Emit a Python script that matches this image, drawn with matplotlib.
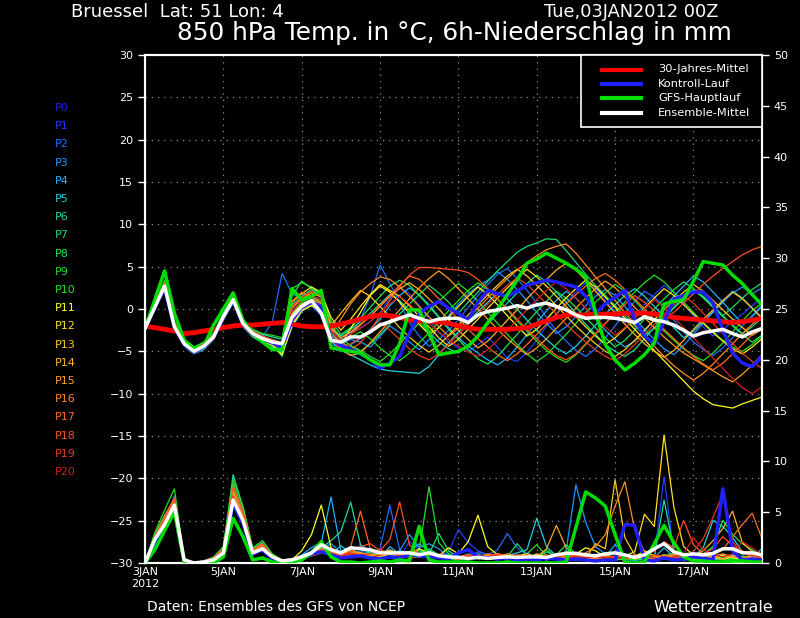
import numpy as np
import matplotlib
matplotlib.use('Agg')
import matplotlib.pyplot as plt
from matplotlib.lines import Line2D
from matplotlib.patches import Rectangle

OUTPUT = 'out.png'

STEP_DAYS = 0.25  # 6h
DAY_TICKS = [0, 2, 4, 6, 8, 10, 12, 14]
DAY_LABELS = ['3JAN\n2012', '5JAN', '7JAN', '9JAN', '11JAN', '13JAN', '15JAN', '17JAN']

# --- 850 hPa temperature, 6-hourly from 03JAN 00Z ---
t_clim = [-2.0, -2.2, -2.4, -2.6, -2.9, -2.8, -2.6, -2.4, -2.2, -2.0, -1.9, -1.9, -1.8, -1.7, -1.6, -1.8,
          -2.0, -2.1, -2.1, -2.0, -1.8, -1.5, -1.2, -0.9, -0.7, -0.8, -1.0, -1.3, -1.4, -1.5, -1.5, -1.7,
          -2.0, -2.2, -2.4, -2.4, -2.4, -2.4, -2.3, -2.2, -1.8, -1.4, -1.0, -0.7, -0.7, -0.7, -0.6, -0.6,
          -0.6, -0.5, -0.5, -0.5, -0.6, -0.8, -1.0, -1.1, -1.2, -1.3, -1.4, -1.5, -1.6, -1.5, -1.3, -1.1]
t_mean = [-2.3, 0.2, 2.7, -2.1, -4.1, -5.0, -4.4, -3.3, -0.9, 1.1, -1.7, -2.9, -3.5, -3.9, -4.1, -1.0,
          0.3, 1.0, -0.5, -3.7, -3.9, -3.3, -3.3, -2.7, -1.9, -1.5, -1.1, -0.7, -1.1, -1.5, -1.2, -1.1,
          -1.1, -1.6, -0.7, -0.3, -0.1, 0.1, 0.4, 0.1, 0.5, 0.7, 0.3, -0.1, -0.7, -1.1, -1.0, -1.0,
          -1.1, -1.3, -1.6, -0.9, -1.3, -1.5, -1.9, -2.5, -3.2, -2.8, -2.6, -2.4, -2.9, -3.3, -2.7, -2.3]
t_main = [-2.3, 1.1, 4.5, -0.5, -3.7, -4.6, -4.4, -1.9, 0.0, 1.9, -1.3, -2.9, -3.9, -4.8, -4.8, 2.4,
          1.1, 1.5, 2.2, -4.6, -4.8, -5.0, -5.2, -6.0, -6.6, -6.6, -4.1, -0.1, -0.1, -2.9, -5.4, -5.2,
          -5.0, -4.4, -3.2, -1.6, 0.0, 1.7, 3.4, 5.4, 5.9, 6.6, 6.0, 5.4, 4.7, 3.8, -0.4, -4.2,
          -6.0, -7.2, -6.4, -5.4, -4.0, 0.6, 0.9, 1.1, 3.3, 5.6, 5.4, 5.2, 4.0, 3.0, 1.7, 0.5]
t_ctrl = [-2.3, 0.1, 2.5, -2.2, -4.2, -5.1, -4.5, -3.3, -1.0, 1.0, -1.8, -3.0, -3.6, -4.0, -4.5, -1.3,
          0.2, 0.8, 0.3, -3.5, -4.3, -4.8, -5.3, -5.9, -7.0, -6.4, -5.6, -2.9, -0.5, 0.3, 0.9, 0.1,
          -0.5, -1.3, 0.8, 2.2, 1.8, 1.5, 2.1, 2.8, 3.1, 3.4, 3.2, 2.9, 2.6, 1.5, -0.5, 0.6,
          1.4, 2.2, -1.3, -3.2, -4.1, -1.5, 1.1, 1.6, 2.0, 2.0, 0.7, -2.5, -5.2, -6.4, -6.8, -5.6]

t_p1 = [-2.3, 0.4, 3.0, -1.8, -3.9, -4.8, -4.2, -3.0, -0.6, 1.4, -1.4, -2.6, -3.2, -3.6, -3.9, -0.2,
        0.9, 1.5, 1.2, -2.5, -3.6, -2.8, -2.2, -1.5, -0.4, 1.3, 2.6, 1.8, 0.4, -1.2, -2.8, -3.9,
        -4.6, -5.0, -4.2, -3.3, -4.5, -5.8, -6.2, -5.1, -3.7, -2.0, -0.6, 0.8, 2.0, 3.1, 2.4, 1.0,
        -0.3, -1.6, -0.8, 0.5, 1.7, 2.8, 1.9, 0.6, -0.8, -2.1, -3.2, -2.5, -1.4, -0.6, 0.4, 1.3]
t_p2 = [-2.3, 0.3, 2.8, -2.0, -4.0, -4.9, -4.5, -3.2, -1.0, 0.9, -1.9, -3.0, -3.3, -1.5, 4.2, 1.8,
        1.2, 0.4, -0.8, -4.2, -4.6, -3.0, -1.2, 1.5, 5.2, 3.0, 0.8, -1.6, -3.2, -4.4, -3.6, -2.5,
        -1.3, 0.2, 1.6, 2.9, 4.1, 4.8, 3.6, 2.2, 0.7, -1.0, -2.6, -3.8, -4.9, -5.6, -4.7, -3.4,
        -2.0, -0.5, 0.9, 2.1, 1.4, 0.2, -1.3, -2.7, -3.9, -4.8, -5.5, -4.6, -3.4, -2.0, -0.8, 0.5]
t_p3 = [-2.3, 0.1, 2.6, -2.2, -4.2, -5.1, -4.4, -3.4, -1.0, 1.0, -1.8, -3.0, -3.6, -4.0, -4.6, -1.2,
        0.2, 0.8, 0.6, -3.1, -4.1, -3.6, -3.9, -4.5, -3.2, -2.0, -2.8, -3.9, -4.8, -3.6, -2.2, -0.8,
        0.6, 1.8, 2.7, 3.4, 4.4, 3.5, 2.3, 1.0, -0.4, -1.7, -2.9, -2.1, -0.9, 0.4, 1.5, 2.3,
        1.6, 0.3, -1.1, -2.4, -3.6, -4.7, -5.4, -4.3, -3.0, -1.6, -0.4, 0.8, 1.9, 2.6, 1.8, 2.5]
t_p4 = [-2.3, 0.3, 2.9, -1.9, -4.0, -5.0, -4.3, -3.1, -0.8, 1.2, -1.5, -2.8, -3.4, -4.0, -5.3, -2.2,
        -0.3, 0.5, 0.2, -3.6, -4.6, -4.2, -3.5, -2.4, -1.2, 0.4, 1.6, 2.5, 1.7, 0.5, -0.9, -2.2,
        -3.4, -4.4, -5.2, -6.0, -6.6, -5.8, -4.5, -3.0, -1.6, -0.2, 1.0, 2.1, 1.3, 0.1, -1.2, -2.5,
        -3.6, -4.5, -3.8, -2.6, -1.3, 0.2, 1.5, 2.7, 3.9, 3.2, 2.0, 0.8, -0.5, -1.7, -0.9, 0.3]
t_p5 = [-2.3, 0.2, 2.5, -2.3, -4.4, -5.3, -4.8, -3.6, -1.3, 0.7, -2.1, -3.3, -4.0, -4.5, -5.1, -1.8,
        -0.2, 0.4, -0.3, -3.8, -4.9, -5.4, -6.0, -6.6, -7.1, -7.3, -7.4, -7.5, -7.6, -6.8, -5.4, -4.0,
        -2.7, -1.5, -0.3, 0.8, 1.9, 1.2, 0.0, -1.3, -2.5, -3.6, -4.6, -5.3, -4.4, -3.2, -1.9, -0.6,
        0.5, 1.6, 2.4, 1.5, 0.3, -0.9, -2.2, -3.4, -2.6, -1.5, -0.3, 0.9, 2.1, 1.3, 0.1, -1.2]
t_p6 = [-2.3, 0.5, 3.2, -1.6, -3.7, -4.6, -4.0, -2.9, -0.7, 1.3, -1.3, -2.5, -3.0, -3.3, -3.6, 0.5,
        1.5, 2.3, 1.6, -2.2, -3.2, -2.4, -1.5, -0.5, 0.6, 1.7, 1.0, -0.2, -1.5, -2.8, -3.9, -4.7,
        -5.2, -4.3, -3.1, -1.8, -0.5, 0.7, 1.9, 3.0, 4.0, 3.2, 2.0, 0.8, -0.5, -1.8, -3.0, -4.2,
        -5.0, -5.6, -4.8, -3.5, -2.2, -1.0, 0.2, 1.3, 2.3, 1.5, 0.4, -0.8, -1.9, -2.9, -2.1, -1.0]
t_p7 = [-2.3, 0.4, 3.1, -1.7, -3.8, -4.7, -4.1, -3.0, -0.8, 1.2, -1.6, -2.7, -3.3, -4.2, -5.6, -1.0,
        0.5, 1.2, 0.8, -2.9, -4.0, -4.4, -5.0, -4.1, -3.0, -1.8, -0.6, 0.6, 1.7, 2.8, 1.9, 0.8,
        -0.5, 0.8, 2.0, 3.3, 4.5, 5.6, 6.7, 7.4, 7.8, 8.3, 8.2, 6.9, 5.5, 4.1, 2.8, 1.6,
        0.4, -0.8, -2.0, -3.1, -2.3, -1.1, 0.1, 1.2, 2.2, 1.4, 0.3, -0.8, 0.2, 1.3, 2.3, 3.1]
t_p8 = [-2.3, 0.2, 2.7, -2.0, -4.1, -5.1, -4.5, -3.4, -1.0, 1.0, -1.8, -3.0, -3.6, -4.1, -4.7, 1.5,
        3.3, 2.4, 1.8, -1.4, -3.0, -2.2, -1.1, 0.2, 1.5, 2.7, 3.4, 2.8, 1.6, 0.3, -1.0, -2.4,
        -3.6, -4.8, -5.9, -6.5, -5.6, -4.3, -3.0, -1.6, -0.3, 0.9, 2.1, 1.3, 0.2, -1.0, -2.2, -3.4,
        -4.5, -3.7, -2.5, -1.2, 0.0, 1.2, 2.3, 3.2, 2.4, 1.3, 0.2, -0.9, -2.0, -3.0, -3.9, -3.1]
t_p9 = [-2.3, 0.6, 3.4, -1.5, -3.6, -4.5, -3.9, -2.8, -0.5, 1.5, -1.2, -2.4, -2.9, -3.1, -3.4, 2.4,
        3.1, 2.6, 2.0, -1.8, -3.5, -4.3, -4.9, -5.6, -6.2, -5.3, -4.1, -2.9, -1.6, -0.3, 0.9, 2.0,
        3.0, 2.1, 0.9, -0.4, -1.7, -3.0, -4.2, -5.3, -6.2, -5.4, -4.2, -3.0, -1.7, -0.4, 0.8, 1.9,
        2.9, 2.1, 1.0, -0.2, -1.4, -2.6, -3.7, -4.7, -5.5, -6.1, -5.2, -4.0, -2.7, -1.4, -0.2, 0.7]
t_p10 = [-2.3, 0.3, 2.9, -1.9, -4.0, -4.9, -4.3, -3.2, -0.9, 1.1, -1.7, -2.9, -3.5, -3.9, -4.3, -0.4,
         0.8, 1.4, 1.0, -2.7, -3.8, -3.3, -2.7, -3.5, -4.6, -5.5, -6.1, -5.2, -4.0, -2.8, -1.5, -0.2,
         1.0, 2.2, 3.1, 2.3, 1.1, -0.1, -1.4, -2.6, -3.8, -4.9, -5.7, -6.3, -5.4, -4.2, -3.0, -1.7,
         -0.4, 0.8, 2.0, 3.1, 4.0, 3.2, 2.0, 0.8, -0.4, -1.6, -2.7, -3.7, -4.5, -5.0, -4.2, -3.2]
t_p11 = [-2.3, 0.1, 2.5, -2.2, -4.3, -5.2, -4.6, -3.5, -1.1, 0.9, -2.0, -3.2, -3.8, -4.3, -5.4, -2.0,
         -0.2, 0.4, -0.2, -3.5, -4.1, -2.3, -0.4, 1.6, 2.7, 2.0, 0.8, -0.5, -1.8, -3.0, -2.2, -1.0,
         0.3, 1.5, 2.6, 1.7, 0.5, -0.8, -2.0, -3.2, -2.4, -1.2, 0.1, 1.3, 2.4, 3.4, 2.6, 1.4,
         0.2, -1.1, -2.4, -3.6, -4.9, -6.1, -7.3, -8.5, -9.7, -10.6, -11.3, -11.5, -11.7, -11.2, -10.8, -10.4]
t_p12 = [-2.3, 0.4, 3.0, -1.8, -3.9, -4.8, -4.2, -3.1, -0.8, 1.2, -1.5, -2.7, -3.3, -3.7, -4.0, 0.8,
         1.8, 2.6, 1.9, -1.0, -2.5, -1.2, 0.3, 1.7, 2.9, 2.2, 1.5, 0.4, -0.9, -2.1, -3.4, -4.4,
         -3.6, -2.4, -1.2, 0.1, 1.3, 2.5, 3.6, 4.7, 3.8, 2.7, 1.5, 0.3, -0.9, -2.1, -3.2, -4.2,
         -3.4, -2.3, -1.1, 0.1, 1.3, 2.4, 1.6, 0.5, -0.6, -1.7, -2.8, -3.8, -4.7, -5.3, -4.5, -3.5]
t_p13 = [-2.3, 0.2, 2.6, -2.1, -4.2, -5.1, -4.5, -3.4, -1.0, 1.0, -1.8, -3.0, -3.6, -4.0, -4.5, -0.6,
         0.6, 1.1, 0.6, -2.0, -0.5, 0.9, 2.2, 1.5, 0.3, -0.9, -2.2, -3.3, -4.3, -5.1, -4.3, -3.1,
         -1.9, -0.7, 0.5, 1.7, 2.8, 3.9, 4.7, 3.9, 2.8, 1.6, 0.4, -0.8, -2.0, -3.1, -4.1, -5.0,
         -5.6, -4.8, -3.7, -2.5, -1.3, -0.1, 1.0, 2.0, 2.9, 2.1, 1.0, -0.1, -1.2, -2.2, -3.1, -2.4]
t_p14 = [-2.3, 0.3, 2.8, -2.0, -4.1, -5.0, -4.4, -3.3, -0.9, 1.1, -1.7, -2.9, -3.5, -3.9, -4.2, 0.1,
         1.2, 1.9, 1.4, -2.3, -3.4, -2.7, -1.8, -0.9, 0.3, 1.5, 2.4, 3.1, 2.3, 1.2, 0.0, -1.3,
         -2.5, -3.6, -4.6, -3.8, -2.6, -1.3, -0.1, 1.2, 2.4, 3.5, 4.6, 5.4, 4.6, 3.4, 2.1, 0.8,
         -0.5, -1.8, -3.0, -4.1, -5.0, -5.7, -4.9, -3.7, -2.4, -1.2, -0.1, 1.0, 2.0, 1.2, 0.1, -1.0]
t_p15 = [-2.3, 0.1, 2.4, -2.3, -4.3, -5.2, -4.6, -3.5, -1.2, 0.8, -2.0, -3.2, -3.7, -4.1, -4.4, -1.4,
         0.4, 0.9, 0.4, -3.3, -4.7, -5.5, -5.2, -4.0, -2.7, -1.4, -0.1, 1.2, 2.5, 3.6, 4.5, 3.6,
         2.4, 1.2, 0.0, -1.2, -2.4, -3.5, -4.5, -5.4, -4.6, -3.5, -2.3, -1.1, 0.1, 1.3, 2.4, 3.3,
         2.5, 1.4, 0.2, -1.0, -2.2, -3.3, -4.3, -5.2, -5.9, -6.6, -7.3, -8.0, -8.6, -7.7, -6.6, -5.4]
t_p16 = [-2.3, 0.2, 2.7, -2.1, -4.2, -5.1, -4.5, -3.4, -1.0, 1.0, -1.8, -3.0, -3.6, -4.0, -4.8, -1.7,
         0.0, 0.6, 0.1, -3.0, -1.2, 0.6, 2.0, 3.0, 3.8, 3.5, 2.6, 1.5, 0.3, -0.9, -2.1, -3.2,
         -2.3, -1.1, 0.1, 1.3, 2.5, 3.6, 4.6, 5.5, 6.3, 7.0, 7.4, 7.7, 6.6, 5.2, 3.8, 2.4,
         1.0, -0.4, -1.8, -3.1, -4.4, -5.6, -6.7, -7.6, -8.4, -7.6, -6.5, -5.3, -4.1, -2.9, -1.8, -0.8]
t_p17 = [-2.3, 0.3, 2.9, -1.9, -4.0, -4.9, -4.3, -3.2, -0.9, 1.1, -1.6, -2.8, -3.4, -3.8, -4.4, 0.9,
         2.0, 1.4, 0.8, -3.2, -4.0, -3.0, -1.9, -0.8, 0.4, 1.6, 2.8, 3.9, 3.5, 2.4, 1.2, 0.0,
         -1.2, -2.4, -3.5, -4.5, -5.4, -6.1, -5.3, -4.2, -3.0, -1.8, -0.6, 0.6, 1.7, 2.7, 3.6, 4.2,
         3.4, 2.3, 1.2, 0.0, -1.2, -2.4, -3.5, -4.6, -5.6, -6.5, -7.2, -6.4, -5.3, -4.2, -3.0, -2.4]
t_p18 = [-2.3, 0.4, 3.1, -1.7, -3.8, -4.7, -4.1, -3.0, -0.7, 1.3, -1.4, -2.6, -3.2, -3.6, -4.0, 0.3,
         1.4, 2.1, 1.5, -2.6, -3.9, -4.8, -4.0, -2.5, -0.8, 1.0, 2.6, 4.0, 4.9, 4.9, 4.8, 4.7,
         4.6, 4.3, 3.5, 2.4, 1.2, 0.0, -1.2, -2.4, -3.5, -4.6, -5.5, -6.0, -5.3, -4.1, -2.9, -1.7,
         -0.6, 0.5, 1.6, 0.8, -0.2, -1.2, -0.4, 0.7, 1.8, 2.9, 3.9, 4.8, 5.6, 6.4, 7.0, 7.4]
t_p19 = [-2.3, 0.2, 2.6, -2.2, -4.3, -5.2, -4.6, -3.5, -1.1, 0.9, -1.9, -3.1, -3.7, -4.1, -4.6, -1.0,
         0.4, 1.0, 0.5, -3.6, -4.8, -4.1, -3.4, -2.6, -1.6, -2.5, -3.6, -4.7, -5.5, -6.0, -5.3, -4.2,
         -3.0, -1.8, -0.6, 0.6, 1.7, 2.8, 3.7, 2.9, 1.8, 0.6, -0.6, -1.8, -2.9, -3.9, -4.8, -5.6,
         -6.1, -5.3, -4.2, -3.0, -1.8, -0.6, 0.5, 1.5, 0.7, -0.5, -1.7, -2.9, -4.1, -5.2, -6.2, -7.0]
t_p20 = [-2.3, 0.3, 2.8, -2.0, -4.1, -5.0, -4.4, -3.3, -0.9, 1.1, -1.7, -2.9, -3.5, -3.8, -4.1, -0.3,
         1.0, 1.6, 1.1, -2.7, -3.7, -3.0, -2.3, -1.5, -0.5, 0.6, 1.5, 0.6, -0.6, -1.7, -2.7, -3.6,
         -4.4, -5.1, -5.6, -4.8, -3.7, -2.5, -1.3, -0.1, 1.1, 2.2, 3.2, 2.4, 1.3, 0.1, -1.0, -2.1,
         -3.1, -2.2, -1.1, 0.0, 1.1, 0.2, -1.0, -2.2, -3.4, -4.6, -5.8, -7.0, -8.2, -9.3, -10.0, -9.2]

# --- 6h precipitation in mm ---
rr_mean = [0.0, 2.3, 3.8, 5.7, 0.3, 0.0, 0.1, 0.3, 1.0, 6.2, 4.2, 1.0, 1.4, 0.6, 0.2, 0.3,
           0.6, 1.0, 1.8, 1.3, 1.0, 1.5, 1.4, 1.3, 1.0, 1.0, 1.0, 1.0, 0.8, 1.0, 0.7, 0.6,
           0.55, 0.45, 0.55, 0.45, 0.55, 0.6, 0.55, 0.6, 0.6, 0.55, 0.8, 0.95, 0.95, 0.8, 0.7, 0.9,
           1.0, 0.8, 0.55, 0.8, 1.4, 1.9, 1.1, 0.8, 0.9, 0.8, 0.95, 1.4, 1.4, 1.0, 1.0, 0.8]
rr_main = [0.0, 1.3, 3.2, 5.0, 0.1, 0.0, 0.0, 0.0, 0.6, 4.4, 2.6, 0.3, 0.5, 0.1, 0.0, 0.1,
           0.3, 1.0, 2.1, 0.6, 0.1, 0.1, 0.0, 0.1, 0.2, 0.1, 0.3, 0.2, 3.6, 0.3, 0.1, 0.1,
           0.1, 0.1, 0.0, 0.0, 0.0, 0.1, 0.0, 0.0, 0.0, 0.0, 0.0, 0.1, 3.5, 7.0, 6.4, 5.6,
           2.8, 0.1, 0.0, 0.1, 1.9, 3.7, 2.0, 0.6, 0.2, 0.2, 0.1, 0.1, 0.2, 0.2, 0.1, 0.1]
rr_ctrl = [0.0, 1.8, 3.5, 5.3, 0.2, 0.0, 0.1, 0.2, 0.8, 5.8, 3.9, 0.9, 1.3, 0.4, 0.1, 0.2,
           0.4, 0.9, 1.1, 0.8, 0.5, 0.6, 0.7, 0.5, 0.4, 0.6, 0.5, 0.8, 0.7, 0.6, 0.5, 0.4,
           1.0, 1.3, 0.6, 0.5, 0.4, 0.5, 0.3, 0.4, 0.3, 0.5, 0.4, 0.3, 0.4, 0.3, 0.2, 0.3,
           0.3, 3.8, 3.7, 0.3, 0.2, 0.5, 0.3, 0.4, 0.6, 0.5, 0.3, 7.3, 1.2, 0.3, 0.4, 0.3]

rr_p1 = [0.0, 2.4, 4.2, 6.1, 0.4, 0.0, 0.2, 0.4, 1.3, 7.2, 4.8, 1.1, 1.9, 0.8, 0.3, 0.4,
         0.7, 1.2, 1.6, 1.0, 0.6, 0.9, 1.8, 1.2, 0.7, 1.0, 0.6, 2.1, 1.3, 0.8, 0.6, 1.1,
         3.3, 2.0, 1.2, 0.8, 0.5, 0.7, 0.4, 1.0, 0.6, 0.3, 0.5, 0.4, 0.3, 0.6, 0.9, 0.5,
         0.4, 0.3, 0.7, 1.0, 0.6, 8.5, 0.9, 0.2, 0.5, 0.4, 0.3, 0.5, 0.8, 0.4, 0.3, 0.5]
rr_p2 = [0.0, 2.1, 4.0, 6.6, 0.3, 0.0, 0.1, 0.3, 1.1, 6.5, 4.3, 0.9, 1.5, 0.6, 0.2, 0.2,
         0.5, 1.1, 1.4, 0.8, 0.6, 0.8, 1.2, 0.9, 1.4, 5.7, 1.3, 0.8, 1.0, 0.6, 0.5, 0.9,
         0.7, 0.4, 1.1, 0.8, 1.3, 2.9, 1.5, 0.8, 0.5, 0.6, 0.3, 0.4, 0.7, 0.5, 0.3, 0.4,
         0.6, 0.3, 0.2, 0.4, 0.7, 0.5, 0.3, 0.4, 0.6, 0.3, 0.5, 0.7, 0.4, 0.3, 0.5, 0.4]
rr_p3 = [0.0, 2.6, 4.4, 5.9, 0.2, 0.0, 0.2, 0.5, 1.4, 7.6, 5.0, 1.2, 1.7, 0.5, 0.2, 0.3,
         0.6, 0.9, 1.3, 1.9, 1.0, 1.4, 0.9, 0.7, 1.1, 0.8, 1.2, 2.8, 1.5, 1.9, 1.4, 0.6,
         0.5, 0.9, 0.6, 0.4, 0.7, 0.5, 0.3, 0.6, 0.8, 0.5, 0.4, 1.2, 7.7, 4.0, 1.6, 0.9,
         0.5, 0.7, 0.4, 0.3, 0.6, 0.4, 0.9, 0.5, 0.3, 0.4, 0.6, 0.3, 0.5, 0.4, 0.6, 0.3]
rr_p4 = [0.0, 2.2, 4.1, 5.6, 0.3, 0.0, 0.1, 0.3, 1.0, 6.3, 4.1, 1.0, 1.4, 0.6, 0.2, 0.3,
         0.8, 1.5, 2.0, 6.5, 1.2, 0.9, 0.7, 1.0, 0.6, 1.6, 0.9, 1.1, 1.9, 1.2, 0.8, 0.6,
         0.4, 0.6, 0.9, 0.5, 0.8, 0.6, 0.4, 0.7, 0.5, 0.3, 0.6, 0.9, 0.5, 0.4, 0.8, 0.6,
         1.8, 0.7, 0.4, 0.6, 0.5, 1.5, 0.6, 0.4, 0.7, 0.5, 0.3, 0.4, 0.8, 0.5, 0.4, 0.3]
rr_p5 = [0.0, 2.0, 3.9, 5.2, 0.2, 0.0, 0.0, 0.2, 0.9, 5.9, 3.8, 0.8, 1.3, 0.5, 0.1, 0.2,
         0.5, 0.7, 1.0, 0.8, 1.7, 1.0, 0.6, 0.9, 1.3, 0.8, 0.6, 0.9, 0.7, 0.5, 0.6, 0.4,
         0.3, 0.5, 0.8, 0.6, 0.4, 0.7, 1.0, 1.3, 4.4, 1.6, 0.7, 0.5, 0.4, 0.6, 0.5, 0.3,
         0.4, 0.6, 0.3, 0.5, 0.7, 0.4, 0.5, 0.8, 0.6, 1.5, 4.2, 3.6, 2.5, 1.1, 0.6, 1.4]
rr_p6 = [0.0, 2.7, 4.5, 6.0, 0.4, 0.0, 0.2, 0.5, 1.5, 8.7, 5.5, 1.4, 2.0, 0.7, 0.3, 0.4,
         0.6, 1.0, 1.5, 2.2, 3.1, 6.0, 1.8, 1.0, 0.8, 1.2, 0.9, 0.7, 1.0, 1.4, 0.8, 0.5,
         0.4, 0.7, 0.5, 0.9, 0.6, 0.4, 0.8, 0.6, 0.5, 1.1, 0.7, 0.4, 0.6, 0.5, 0.3, 0.6,
         0.5, 0.4, 0.7, 0.9, 0.5, 6.2, 1.3, 0.5, 0.4, 0.6, 0.8, 0.5, 0.4, 0.7, 0.5, 0.4]
rr_p7 = [0.0, 2.5, 4.3, 5.8, 0.3, 0.0, 0.1, 0.4, 1.3, 7.0, 4.6, 1.2, 1.8, 0.6, 0.2, 0.3,
         0.5, 0.8, 1.1, 0.9, 0.7, 1.3, 1.0, 0.8, 0.6, 0.9, 1.2, 0.8, 0.6, 0.9, 2.9, 1.2,
         0.6, 0.4, 0.7, 0.5, 0.3, 0.6, 1.9, 0.8, 0.5, 0.4, 0.7, 0.5, 0.3, 0.4, 0.6, 0.5,
         0.3, 0.4, 0.6, 0.5, 0.3, 0.7, 1.0, 0.6, 0.4, 0.5, 0.3, 0.6, 0.4, 0.3, 0.5, 0.4]
rr_p8 = [0.0, 2.8, 4.7, 6.3, 0.4, 0.0, 0.2, 0.5, 1.4, 7.8, 5.2, 1.3, 1.9, 0.8, 0.3, 0.3,
         0.7, 1.1, 1.6, 1.1, 0.8, 1.2, 1.5, 0.9, 0.7, 1.0, 0.8, 0.6, 1.2, 0.9, 0.6, 0.8,
         0.5, 0.7, 0.4, 0.6, 0.9, 0.5, 0.4, 0.6, 0.3, 0.5, 0.8, 1.8, 0.9, 0.6, 0.4, 0.5,
         0.7, 0.5, 0.3, 0.6, 0.4, 0.8, 0.5, 0.4, 0.6, 0.9, 1.6, 4.2, 2.8, 1.9, 1.3, 0.7]
rr_p9 = [0.0, 3.0, 5.2, 7.3, 0.5, 0.0, 0.2, 0.6, 1.6, 8.2, 5.6, 1.5, 2.2, 0.9, 0.3, 0.4,
         0.6, 1.0, 1.2, 0.9, 0.7, 1.0, 0.8, 0.6, 0.9, 1.2, 0.8, 0.6, 1.3, 7.5, 2.0, 0.9,
         0.5, 0.4, 0.6, 0.8, 0.5, 0.3, 0.6, 0.9, 1.8, 0.7, 0.5, 0.4, 0.6, 0.5, 0.3, 0.4,
         0.6, 0.4, 0.3, 0.5, 0.7, 0.4, 0.6, 0.5, 0.3, 0.4, 0.5, 0.7, 0.4, 0.3, 0.6, 0.4]
rr_p10 = [0.0, 2.3, 4.0, 5.5, 0.3, 0.0, 0.1, 0.3, 1.1, 6.6, 4.4, 1.0, 1.5, 0.6, 0.2, 0.2,
          0.4, 0.7, 1.0, 0.8, 0.5, 0.9, 0.7, 0.5, 0.8, 1.1, 0.7, 0.5, 0.6, 0.8, 0.5, 0.4,
          0.3, 0.5, 0.7, 0.4, 0.6, 0.8, 0.5, 0.3, 0.5, 1.3, 0.6, 0.4, 0.3, 0.5, 0.7, 0.4,
          0.3, 0.5, 0.4, 0.6, 0.3, 0.5, 0.4, 0.3, 0.6, 0.4, 0.5, 0.3, 0.4, 0.6, 0.4, 0.3]
rr_p11 = [0.0, 1.8, 3.5, 5.1, 0.2, 0.0, 0.1, 0.3, 1.0, 6.1, 4.0, 0.9, 1.4, 0.5, 0.2, 0.3,
          1.2, 2.8, 5.7, 1.5, 0.8, 1.1, 0.9, 0.6, 0.8, 1.0, 0.7, 0.9, 1.4, 1.0, 0.7, 1.5,
          0.9, 2.1, 4.7, 1.6, 0.8, 0.5, 0.7, 0.9, 0.6, 0.4, 0.7, 0.5, 0.9, 1.5, 1.2, 0.6,
          0.5, 0.8, 0.6, 1.2, 0.7, 0.4, 0.6, 0.5, 0.3, 0.6, 0.4, 0.8, 0.5, 0.4, 0.6, 0.3]
rr_p12 = [0.0, 2.2, 3.9, 5.3, 0.3, 0.0, 0.1, 0.3, 1.2, 6.7, 4.4, 1.1, 1.6, 0.6, 0.2, 0.3,
          0.5, 0.9, 1.2, 1.0, 0.7, 1.0, 0.8, 0.7, 0.9, 1.3, 0.9, 0.6, 0.8, 1.1, 0.8, 0.5,
          0.4, 0.7, 0.5, 0.8, 0.6, 0.4, 0.7, 0.5, 0.9, 0.6, 0.4, 0.7, 0.5, 0.6, 0.4, 0.8,
          0.5, 0.7, 1.1, 4.8, 3.6, 12.6, 5.5, 1.6, 0.8, 0.5, 0.7, 0.4, 0.6, 0.5, 0.3, 0.5]
rr_p13 = [0.0, 1.9, 3.7, 5.6, 0.2, 0.0, 0.1, 0.2, 0.9, 6.2, 4.1, 0.8, 1.5, 0.6, 0.1, 0.3,
          0.4, 0.8, 1.1, 0.9, 0.6, 0.9, 1.0, 0.8, 0.6, 0.9, 0.7, 0.5, 0.7, 0.9, 0.6, 0.4,
          0.6, 0.8, 0.5, 0.7, 0.9, 0.6, 0.4, 0.6, 0.8, 0.5, 0.7, 1.1, 0.8, 0.5, 1.9, 1.4,
          8.2, 2.5, 0.8, 0.6, 0.4, 0.7, 0.5, 0.4, 0.6, 0.8, 0.5, 0.4, 0.7, 0.5, 0.4, 0.6]
rr_p14 = [0.0, 2.0, 3.8, 5.0, 0.2, 0.0, 0.1, 0.3, 1.0, 6.0, 3.9, 1.0, 1.3, 0.5, 0.2, 0.2,
          0.6, 0.9, 1.3, 0.9, 0.7, 1.0, 0.8, 0.6, 0.7, 1.0, 0.8, 0.6, 0.9, 0.7, 0.5, 0.6,
          0.4, 0.6, 0.8, 0.5, 0.7, 0.5, 0.4, 0.8, 0.6, 0.4, 0.6, 0.8, 0.5, 0.7, 0.5, 0.4,
          0.6, 0.4, 0.7, 0.5, 0.3, 0.6, 0.8, 0.5, 0.7, 1.2, 2.2, 3.4, 5.1, 2.0, 1.1, 0.6]
rr_p15 = [0.0, 2.1, 4.0, 5.7, 0.3, 0.0, 0.1, 0.4, 1.2, 6.9, 4.6, 1.1, 1.7, 0.6, 0.2, 0.3,
          0.5, 0.8, 1.2, 1.0, 0.8, 1.1, 0.9, 0.7, 0.8, 1.2, 0.9, 0.7, 0.6, 0.9, 0.7, 0.5,
          0.4, 0.6, 0.5, 0.8, 0.6, 0.9, 0.7, 0.5, 0.6, 1.4, 3.7, 1.5, 0.7, 0.5, 0.4, 0.6,
          0.5, 0.7, 0.4, 0.6, 0.8, 0.5, 0.4, 0.7, 0.5, 0.9, 0.6, 0.4, 0.7, 0.5, 0.8, 0.6]
rr_p16 = [0.0, 2.4, 4.3, 6.2, 0.4, 0.0, 0.2, 0.4, 1.3, 7.3, 4.9, 1.2, 1.8, 0.7, 0.3, 0.3,
          0.6, 1.0, 1.4, 1.1, 0.8, 1.2, 1.0, 0.8, 0.7, 1.1, 0.9, 0.6, 0.8, 1.0, 0.7, 0.5,
          0.6, 0.8, 0.5, 0.7, 0.9, 0.6, 0.5, 0.7, 0.5, 0.8, 0.6, 0.5, 0.7, 1.0, 1.6, 2.8,
          5.6, 8.0, 3.3, 1.1, 0.6, 0.8, 0.5, 0.7, 0.6, 0.4, 0.7, 0.9, 0.6, 0.5, 0.7, 0.4]
rr_p17 = [0.0, 2.2, 4.1, 5.9, 0.3, 0.0, 0.1, 0.4, 1.1, 6.4, 4.2, 1.0, 1.6, 0.6, 0.2, 0.3,
          0.5, 0.9, 1.2, 1.0, 0.9, 1.6, 5.1, 1.4, 0.8, 1.0, 0.7, 0.9, 0.6, 0.8, 0.6, 0.5,
          0.4, 0.7, 0.5, 0.6, 0.9, 0.7, 0.5, 0.8, 0.6, 0.4, 0.7, 0.5, 0.6, 0.8, 0.5, 0.4,
          0.6, 0.8, 0.5, 0.7, 0.4, 0.6, 0.9, 0.5, 0.7, 0.6, 0.9, 1.3, 2.6, 3.8, 4.9, 2.4]
rr_p18 = [0.0, 2.6, 4.6, 6.4, 0.4, 0.0, 0.2, 0.5, 1.4, 7.5, 5.1, 1.3, 1.9, 0.7, 0.3, 0.4,
          0.6, 1.0, 1.3, 1.1, 0.8, 1.1, 1.6, 1.9, 1.2, 2.3, 6.0, 1.8, 0.9, 0.7, 0.9, 0.6,
          0.5, 0.8, 0.6, 0.9, 0.7, 0.5, 0.8, 0.6, 0.5, 0.7, 0.9, 0.6, 0.8, 0.6, 0.5, 0.7,
          0.6, 0.8, 0.5, 0.7, 1.2, 2.1, 1.5, 4.2, 1.8, 0.9, 1.4, 2.6, 1.7, 1.2, 0.8, 0.6]
rr_p19 = [0.0, 2.3, 4.2, 6.0, 0.3, 0.0, 0.1, 0.4, 1.2, 6.6, 4.5, 1.1, 1.6, 0.6, 0.2, 0.3,
          0.5, 0.8, 1.1, 0.9, 0.7, 1.0, 0.8, 0.9, 1.3, 1.0, 0.8, 0.6, 0.9, 0.7, 0.5, 0.6,
          0.4, 0.6, 0.8, 0.5, 0.7, 0.5, 0.6, 0.8, 0.5, 0.4, 0.6, 0.8, 0.6, 0.5, 0.7, 0.5,
          0.6, 0.4, 0.7, 0.5, 0.8, 0.6, 0.5, 0.7, 1.1, 2.4, 4.5, 6.8, 2.1, 1.0, 0.7, 0.5]
rr_p20 = [0.0, 2.0, 3.8, 5.5, 0.2, 0.0, 0.1, 0.3, 1.0, 6.2, 4.0, 0.9, 1.4, 0.5, 0.2, 0.2,
          0.4, 0.7, 1.0, 0.8, 0.6, 0.9, 0.7, 0.5, 0.8, 1.0, 0.7, 0.5, 0.7, 0.9, 0.6, 0.4,
          0.5, 0.7, 0.5, 0.6, 0.8, 0.5, 0.4, 0.6, 0.5, 0.7, 0.5, 0.4, 0.6, 0.5, 0.7, 0.5,
          0.4, 0.6, 0.5, 0.7, 0.5, 0.4, 0.6, 0.9, 2.5, 1.3, 0.8, 0.6, 0.9, 2.1, 1.5, 0.8]

MEMBER_LABELS = ['P%d' % i for i in range(21)]
MEMBER_COLORS = ['#1e1edc', '#1e3cff', '#1e6eff', '#1e96ff', '#1eb4ff', '#1ed2dc', '#1edc96',
                 '#1edc6e', '#1ee650', '#28dc28', '#1ee61e', '#ffff1e', '#ffe11e', '#ffc81e',
                 '#ffb41e', '#ffa01e', '#ff8c1e', '#ff6e1e', '#ff501e', '#e63c1e', '#d21e1e']

LEGEND_LABELS = ['30-Jahres-Mittel', 'Kontroll-Lauf', 'GFS-Hauptlauf', 'Ensemble-Mittel']
LEGEND_COLORS = ['#ff0000', '#2020ff', '#00dd00', '#ffffff']

FG = 'white'
GRID = '#8c8c8c'
W, H = 800, 618


def fx(px):
    return px / W


def fy(py):
    return 1 - py / H


def style_axis(ax):
    for side in ['left', 'right', 'top', 'bottom']:
        ax.spines[side].set_color(FG)
        ax.spines[side].set_linewidth(1.5)
    ax.tick_params(colors=FG, labelsize=8, length=5, width=1)


def draw_legend(fig):
    """Legend box in the upper right corner, drawn like the original"""
    fig.patches.append(Rectangle((fx(581), fy(127)), fx(762) - fx(581), fy(55) - fy(127),
                                 transform=fig.transFigure, facecolor='black',
                                 edgecolor=FG, lw=1.2, zorder=10))
    for i, (lab, col) in enumerate(zip(LEGEND_LABELS, LEGEND_COLORS)):
        y = fy(69.5 + 14.4 * i)
        fig.lines.append(Line2D([fx(602), fx(641)], [y, y], color=col, lw=3,
                                transform=fig.transFigure, zorder=11))
        fig.text(fx(658), y, lab, color=FG, fontsize=8.2, va='center', ha='left', zorder=11)


if __name__ == '__main__':
    temps = [t_p1, t_p2, t_p3, t_p4, t_p5, t_p6, t_p7, t_p8, t_p9, t_p10,
             t_p11, t_p12, t_p13, t_p14, t_p15, t_p16, t_p17, t_p18, t_p19, t_p20]
    precs = [rr_p1, rr_p2, rr_p3, rr_p4, rr_p5, rr_p6, rr_p7, rr_p8, rr_p9, rr_p10,
             rr_p11, rr_p12, rr_p13, rr_p14, rr_p15, rr_p16, rr_p17, rr_p18, rr_p19, rr_p20]
    days = np.arange(len(t_mean)) * STEP_DAYS

    fig = plt.figure(figsize=(8, 6.18), dpi=100, facecolor='black')
    ax = fig.add_axes([fx(145), 55 / H, fx(762) - fx(145), 508 / H], facecolor='black')
    ax2 = ax.twinx()

    # thin member lines
    for i, (t, rr) in enumerate(zip(temps, precs)):
        col = MEMBER_COLORS[i + 1]
        ax.plot(days, t, color=col, lw=0.9, zorder=2)
        ax2.plot(days, rr, color=col, lw=0.9, zorder=2)

    ax.plot(days, t_clim, color=LEGEND_COLORS[0], lw=3.5, zorder=3)
    ax.plot(days, t_ctrl, color=LEGEND_COLORS[1], lw=2.5, zorder=4)
    ax.plot(days, t_main, color=LEGEND_COLORS[2], lw=2.5, zorder=5)
    ax.plot(days, t_mean, color=LEGEND_COLORS[3], lw=2.5, zorder=6)
    ax2.plot(days, rr_ctrl, color=LEGEND_COLORS[1], lw=2.5, zorder=4)
    ax2.plot(days, rr_main, color=LEGEND_COLORS[2], lw=2.5, zorder=5)
    ax2.plot(days, rr_mean, color=LEGEND_COLORS[3], lw=2.5, zorder=6)

    ax.set_xlim(0, days[-1])
    ax.set_ylim(-30, 30)
    ax2.set_ylim(0, 50)
    ax.set_yticks(range(-30, 31, 5))
    ax2.set_yticks(range(0, 51, 5))
    ax.set_xticks(DAY_TICKS)
    ax.set_xticklabels(DAY_LABELS)

    ax.grid(True, color=GRID, linestyle=(0, (1, 4)), linewidth=0.9)
    style_axis(ax)
    style_axis(ax2)
    ax.tick_params(axis='x', length=0, pad=3)

    draw_legend(fig)

    # member labels at the left side
    for i, lab in enumerate(MEMBER_LABELS):
        fig.text(fx(55), fy(108 + 18.2 * i), lab, color=MEMBER_COLORS[i],
                 fontsize=8, va='center', ha='left')

    fig.text(fx(71), fy(12), 'Bruessel  Lat: 51 Lon: 4', color=FG,
             fontsize=13, va='center', ha='left')
    fig.text(fx(718), fy(12), 'Tue,03JAN2012 00Z', color=FG,
             fontsize=12.8, va='center', ha='right')
    fig.text(fx(454), fy(33), '850 hPa Temp. in \u00b0C, 6h-Niederschlag in mm',
             color=FG, fontsize=17.8, va='center', ha='center')
    fig.text(fx(147), fy(607), 'Daten: Ensembles des GFS von NCEP', color=FG,
             fontsize=10, va='center', ha='left')
    fig.text(fx(773), fy(607), 'Wetterzentrale', color=FG,
             fontsize=11.5, va='center', ha='right')

    fig.savefig(OUTPUT, dpi=100, facecolor='black')
